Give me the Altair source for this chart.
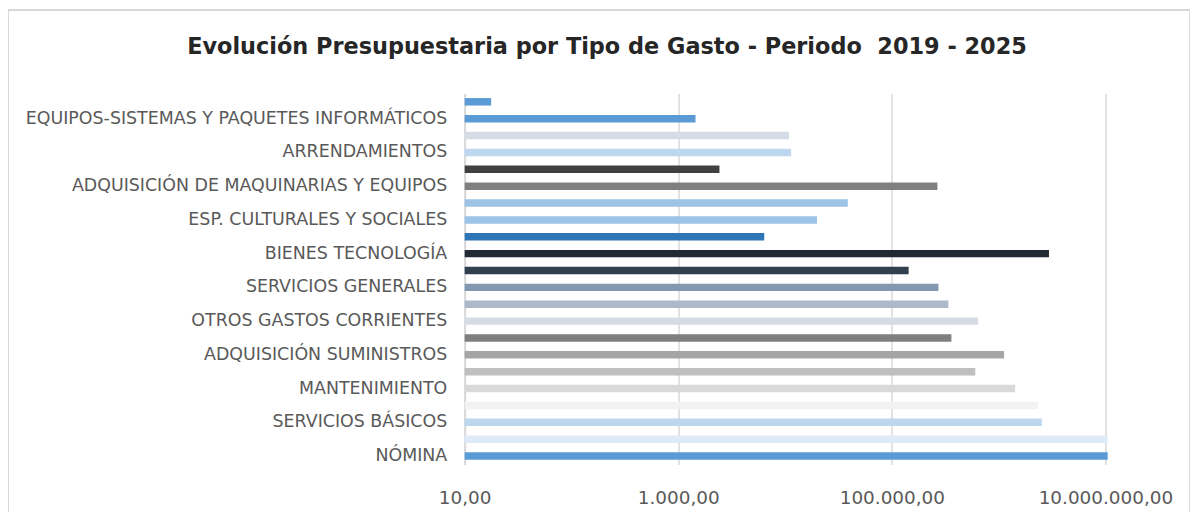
import altair as alt
import pandas as pd
import json

# Rows from top to bottom (Excel shows every other category label)
labels = ["", "EQUIPOS-SISTEMAS Y PAQUETES INFORMÁTICOS", "", "ARRENDAMIENTOS", "",
          "ADQUISICIÓN DE MAQUINARIAS Y EQUIPOS", "", "ESP. CULTURALES Y SOCIALES", "",
          "BIENES TECNOLOGÍA", "", "SERVICIOS GENERALES", "", "OTROS GASTOS CORRIENTES", "",
          "ADQUISICIÓN SUMINISTROS", "", "MANTENIMIENTO", "", "SERVICIOS BÁSICOS", "", "NÓMINA"]
values = [17.7, 1450, 10900, 11400, 2430, 267000, 38700, 19900, 6380, 2960000, 143600,
          273000, 338000, 644000, 361000, 1125000, 604000, 1426000, 2330000, 2540000,
          10500000, 10500000]
order = list(range(len(labels)))
palette = ["#5B9BD5", "#5B9BD5", "#D6DCE5", "#BDD7EE", "#404040", "#7F7F7F", "#9DC3E6",
           "#9DC3E6", "#2E75B6", "#222A35", "#323F4F", "#8497B0", "#ADB9CA", "#D6DCE5",
           "#7F7F7F", "#A5A5A5", "#BFBFBF", "#D9D9D9", "#F2F2F2", "#BDD7EE", "#DEEBF7",
           "#5B9BD5"]
tick_values = [10, 1000, 100000, 10000000]
title_text = "Evolución Presupuestaria por Tipo de Gasto - Periodo\u00a0 2019 - 2025"

df = pd.DataFrame({"orden": order, "valor": values})

label_expr = json.dumps(labels, ensure_ascii=False) + "[datum.value]"

W, H = 644, 373
PL, PT, PR, PB = 459, 84.5, 87, 60

bars = alt.Chart(df).mark_bar(size=7.5).encode(
    y=alt.Y("orden:O", sort=order, title=None,
            axis=alt.Axis(labelExpr=label_expr, ticks=False, labelPadding=18,
                          labelFont="DejaVu Sans", labelFontSize=17.5, labelColor="#595959",
                          domainColor="#D9D9D9", domainWidth=2, labelLimit=600,
                          grid=False)),
    x=alt.X("valor:Q", title=None,
            scale=alt.Scale(type="log", domain=[10, 10000000]),
            axis=alt.Axis(values=tick_values, format=",.2f", ticks=False, domain=False,
                          labelPadding=24, labelFont="DejaVu Sans", labelFontSize=18.5,
                          labelColor="#595959", gridColor="#D9D9D9", gridWidth=1.5,
                          labelFlush=False)),
    x2=alt.datum(10),
    color=alt.Color("orden:N", scale=alt.Scale(domain=order, range=palette), legend=None),
)

title = alt.Chart(df).transform_filter("datum.orden == 0").mark_text(
    text=title_text, font="DejaVu Sans", fontSize=22.5, fontWeight="bold",
    color="#262626", align="center", baseline="middle"
).encode(x=alt.value(599 - PL + 3), y=alt.value(38 - PT))

frame = alt.Chart(df).mark_rule(color="#D9D9D9", strokeWidth=1).encode(
    x=alt.value(-PL + 0.5), x2=alt.value(W + PR - 2.5), y=alt.value(-PT + 0.5)
)
frame_l = alt.Chart(df).mark_rule(color="#D9D9D9", strokeWidth=1).encode(
    x=alt.value(-PL + 0.5), y=alt.value(-PT + 0.5), y2=alt.value(H + PB)
)
frame_r = alt.Chart(df).mark_rule(color="#D9D9D9", strokeWidth=1).encode(
    x=alt.value(W + PR - 2.5), y=alt.value(-PT + 0.5), y2=alt.value(H + PB)
)

chart = alt.layer(frame, frame_l, frame_r, bars, title).properties(
    width=W, height=H,
    padding={"left": PL, "top": PT, "right": PR, "bottom": PB},
    autosize="none",
).configure_view(stroke=None)

chart.save("out.html", embed_options={
    "renderer": "svg", "actions": False,
    "formatLocale": {"decimal": ",", "thousands": ".", "grouping": [3], "currency": ["$", ""]},
})
